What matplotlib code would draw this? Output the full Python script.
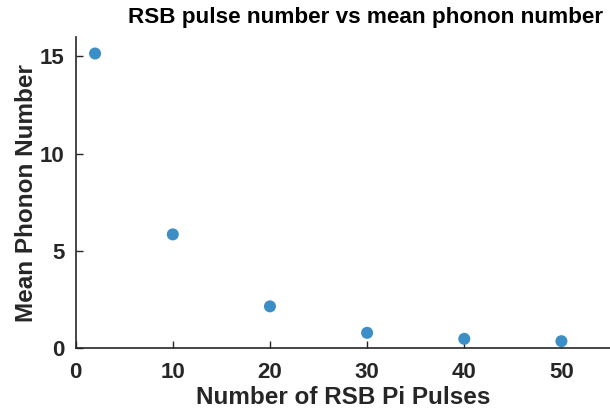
import matplotlib
matplotlib.use("Agg")
import matplotlib.pyplot as plt

plt.rcParams["font.family"] = ["Liberation Sans", "DejaVu Sans"]
plt.rcParams["font.weight"] = "bold"

pulses = [2, 10, 20, 30, 40, 50]
phonons = [15.15, 5.85, 2.15, 0.79, 0.48, 0.36]
xticks = [0, 10, 20, 30, 40, 50]
yticks = [0, 5, 10, 15]

fig = plt.figure(figsize=(6.1, 4.2), dpi=100)
ax = fig.add_axes([0.124, 0.171, 0.876, 0.741])

ax.scatter(pulses, phonons, s=75, color="#3b8fc6", edgecolors="none", zorder=3)

ax.set_xlim(0, 55)
ax.set_ylim(0, 16)
ax.set_xticks(xticks)
ax.set_yticks(yticks)

for side in ["top", "right"]:
    ax.spines[side].set_visible(False)
for side in ["left", "bottom"]:
    ax.spines[side].set_linewidth(1.2)
    ax.spines[side].set_color("#262626")

ax.tick_params(direction="in", length=5, width=1, colors="#262626", labelsize=16)
ax.tick_params(axis="x", pad=10)
ax.tick_params(axis="y", pad=8)
for lbl in ax.get_xticklabels() + ax.get_yticklabels():
    lbl.set_fontweight("bold")

ax.set_xlabel("Number of RSB Pi Pulses", fontsize=17.5, fontweight="bold", color="#262626", labelpad=2)
ax.set_ylabel("Mean Phonon Number", fontsize=17.5, fontweight="bold", color="#262626", labelpad=1)
ax.set_title("RSB pulse number vs mean phonon number", fontsize=16.2, fontweight="bold", color="black", pad=10, x=0.543)

fig.savefig("out.png", dpi=100)
